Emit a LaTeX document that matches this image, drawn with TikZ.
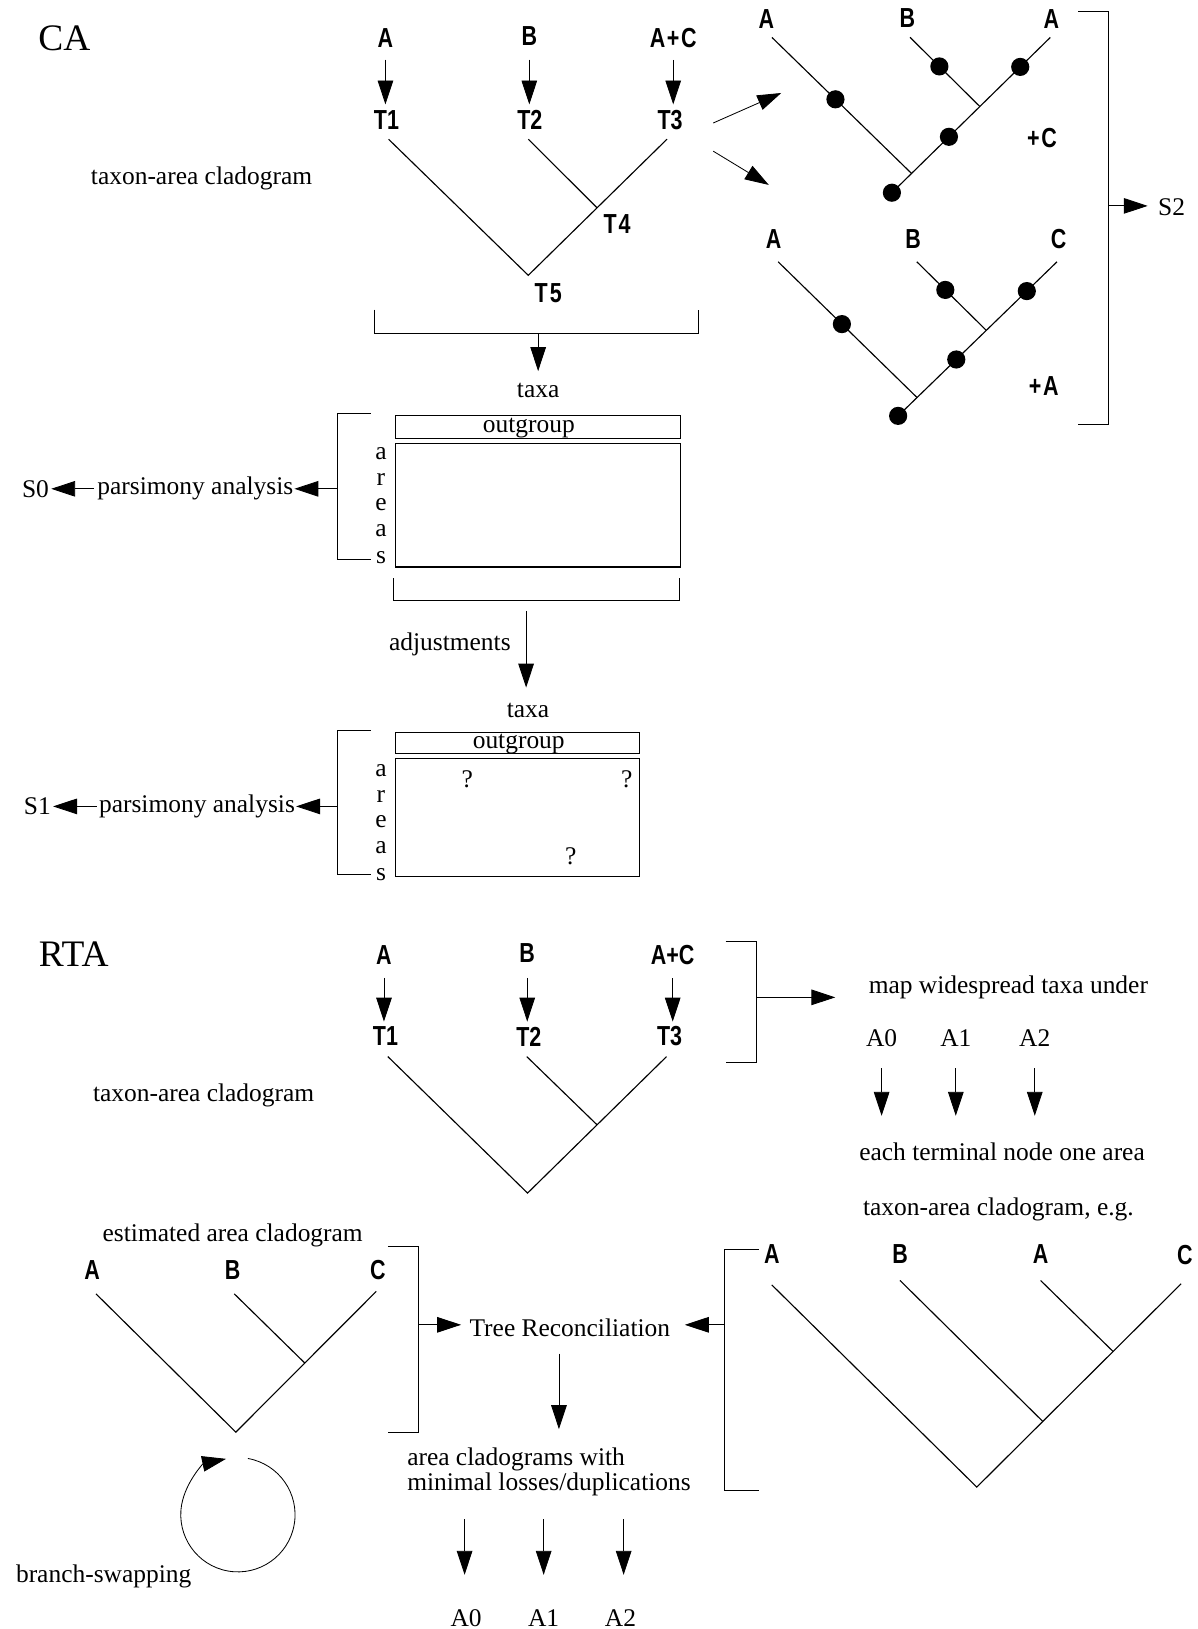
\documentclass[tikz,border=0pt]{standalone}
\usepackage{fontspec}
\setmainfont{Liberation Serif}
\newfontfamily\labfont[FakeStretch=0.78]{Liberation Sans}
\usetikzlibrary{arrows.meta,calc}
\tikzset{
  txt/.style={inner sep=0pt, font=\fontsize{24.5}{28}\selectfont},
  big/.style={inner sep=0pt, font=\fontsize{36}{40}\selectfont},
  lab/.style={inner sep=0pt, font=\labfont\fontsize{26.5}{30}\selectfont\bfseries},
  arr/.style={line width=0.8pt, -{Triangle[length=23pt,width=15pt]}},
  ln/.style={line width=1.1pt},
  br/.style={line width=1.1pt},
  dotn/.style={circle, fill, inner sep=0pt, minimum size=17.5pt},
  boxn/.style={draw, line width=1.1pt}
}
\begin{document}
\begin{tikzpicture}[x=1pt,y=-1pt]
\useasboundingbox (0,0) rectangle (1153,1568);

% ================= CA =================
\node[big] (CA) at (62,37) {CA};
\node[lab] (ca1) at (371,37) {A};
\node[lab] (ca2) at (509.5,35) {B};
\node[lab] (ca3) at (648,37) {A\kern1.5pt+\kern1.5pt C};
\node[lab] (ct1) at (372,115.5) {T1};
\node[lab] (ct2) at (510,115.5) {T2};
\node[lab] (ct3) at (645,115.5) {T3};
\draw[arr, shorten <=11pt, shorten >=15pt] (ca1) -- (ca1 |- ct1);
\draw[arr, shorten <=13pt, shorten >=15pt] (ca2) -- (ca2 |- ct2);
\draw[arr, shorten <=11pt, shorten >=15pt] (ca3) -- (ca3 |- ct3);
\coordinate (cv1) at (374,134);
\coordinate (cv2) at (508.5,134);
\coordinate (cv3) at (642,134);
\coordinate (cr) at (508.5,265);
\coordinate (cj) at ($(cv3)!0.504!(cr)$);
\draw[ln] (cv1) -- (cr) -- (cv3);
\draw[ln] (cv2) -- (cj);
\node[lab] (ct4) at (594,215.6) {T\kern2pt 4};
\node[lab] (ct5) at (527.7,282) {T\kern2pt 5};
\node[txt] (ctac) at (194,171.6) {taxon-area cladogram};

% arrows to the two trees
\coordinate (ta1s) at (686.5,118.4);
\coordinate (ta1e) at (752,89.5);
\coordinate (ta2s) at (686.5,145.5);
\coordinate (ta2e) at (740,178);
\draw[arr] (ta1s) -- (ta1e);
\draw[arr] (ta2s) -- (ta2e);

% bracket under tree
\draw[br] (360.6,298) -- (360.6,321) -- (672.5,321) -- (672.5,298);
\coordinate (cb1) at (518,321);
\node[txt] (taxa1) at (518,375.4) {taxa};
\draw[arr, shorten >=11pt] (cb1) -- (taxa1);

% matrix 1
\node[boxn, minimum width=274.4pt, minimum height=22.2pt, inner sep=0pt] (og1) at (518.1,411.1) {};
\node[txt] (og1t) at (509,412.5) {outgroup};
\node[boxn, minimum width=274.4pt, minimum height=118.4pt, inner sep=0pt] (m1) at (518.1,486.5) {};
\node[txt] (m1a) at (366.7,437) {a};
\node[txt] (m1r) at (366.7,461.3) {r};
\node[txt] (m1e) at (366.7,486) {e};
\node[txt] (m1a2) at (366.7,511) {a};
\node[txt] (m1s) at (366.7,536.5) {s};
\draw[br] (357,398.2) -- (324.8,398.2) -- (324.8,538.4) -- (357,538.4);
\coordinate (lb1) at (324.8,470.5);
\node[txt] (pars1) at (188,470.5) {parsimony analysis};
\node[txt] (s0) at (34.2,470.5) {S0};
\draw[arr, shorten >=1pt] (lb1) -- (pars1.east);
\draw[arr, shorten <=3pt, shorten >=2pt] (pars1.west) -- (s0.east);

\draw[br] (379,556.8) -- (379,578.2) -- (654,578.2) -- (654,556.8);
\coordinate (adjs) at (506.4,588);
\coordinate (adje) at (506.4,661.8);
\draw[arr] (adjs) -- (adje);
\node[txt] (adj) at (433,620.6) {adjustments};
\node[txt] (taxa2) at (508.2,684.3) {taxa};

% matrix 2
\node[boxn, minimum width=234.5pt, minimum height=20.3pt, inner sep=0pt] (og2) at (498.25,714.85) {};
\node[txt] (og2t) at (499.3,716) {outgroup};
\node[boxn, minimum width=234.5pt, minimum height=113.9pt, inner sep=0pt] (m2) at (498.25,786.65) {};
\node[txt] (m2a) at (366.7,741.5) {a};
\node[txt] (m2r) at (366.7,766.3) {r};
\node[txt] (m2e) at (366.7,791) {e};
\node[txt] (m2a2) at (366.7,816) {a};
\node[txt] (m2s) at (366.7,841.8) {s};
\node[txt] (q1) at (449.8,750.4) {?};
\node[txt] (q2) at (603.2,750.4) {?};
\node[txt] (q3) at (549.3,824) {?};
\draw[br] (357,703.5) -- (324.8,703.5) -- (324.8,841.8) -- (357,841.8);
\coordinate (lb2) at (324.8,776.2);
\node[txt] (pars2) at (189.6,776.2) {parsimony analysis};
\node[txt] (s1) at (36,776.2) {S1};
\draw[arr, shorten >=1pt] (lb2) -- (pars2.east);
\draw[arr, shorten <=2pt, shorten >=2pt] (pars2.west) -- (s1.east);

% ---- tree 1 (right top) ----
\node[lab] (u1a) at (737.6,18.6) {A};
\node[lab] (u1b) at (873.5,17.6) {B};
\node[lab] (u1c) at (1012,18.6) {A};
\coordinate (u1ta) at (743,36);
\coordinate (u1tb) at (876,36);
\coordinate (u1tc) at (1011,36);
\coordinate (u1r) at (858.5,185.5);
\coordinate (u1ja) at ($(u1tc)!0.876!(u1r)$);
\coordinate (u1jb) at ($(u1tc)!0.445!(u1r)$);
\draw[ln] (u1ta) -- (u1ja);
\draw[ln] (u1tb) -- (u1jb);
\draw[ln] (u1tc) -- (u1r);
\node[dotn] (u1d1) at ($(u1ta)!0.455!(u1ja)$) {};
\node[dotn] (u1d2) at ($(u1tb)!0.42!(u1jb)$) {};
\node[dotn] (u1d3) at ($(u1tc)!0.19!(u1r)$) {};
\node[dotn] (u1d4) at ($(u1tc)!0.64!(u1r)$) {};
\node[dotn] (u1d5) at (u1r) {};
\node[lab] (pc) at (1003,133) {+\kern1.5pt C};

% ---- tree 2 (right) ----
\node[lab] (u2a) at (744.7,229.6) {A};
\node[lab] (u2b) at (879,229.6) {B};
\node[lab] (u2c) at (1019,229.6) {C};
\coordinate (u2ta) at (749,252);
\coordinate (u2tb) at (882.5,252);
\coordinate (u2tc) at (1017.4,252);
\coordinate (u2r) at (864.5,400.3);
\coordinate (u2ja) at ($(u2tc)!0.881!(u2r)$);
\coordinate (u2jb) at ($(u2tc)!0.445!(u2r)$);
\draw[ln] (u2ta) -- (u2ja);
\draw[ln] (u2tb) -- (u2jb);
\draw[ln] (u2tc) -- (u2r);
\node[dotn] (u2d1) at ($(u2ta)!0.459!(u2ja)$) {};
\node[dotn] (u2d2) at ($(u2tb)!0.41!(u2jb)$) {};
\node[dotn] (u2d3) at ($(u2tc)!0.19!(u2r)$) {};
\node[dotn] (u2d4) at ($(u2tc)!0.634!(u2r)$) {};
\node[dotn] (u2d5) at (u2r) {};
\node[lab] (pa) at (1004.7,371.5) {+\kern1.5pt A};

\draw[br] (1038,11.2) -- (1066.8,11.2) -- (1066.8,408.6) -- (1038,408.6);
\coordinate (rb1) at (1066.8,198.2);
\node[txt] (s2) at (1127.8,199.8) {S2};
\draw[arr, shorten >=10pt] (rb1) -- (s2.west |- rb1);

% ================= RTA =================
\node[big] (RTA) at (71,918.5) {RTA};
\node[lab] (rl1) at (369.6,919) {A};
\node[lab] (rl2) at (507.5,916.9) {B};
\node[lab] (rl3) at (647.5,919) {A+C};
\node[lab] (rt1) at (371,997.7) {T1};
\node[lab] (rt2) at (509,997.7) {T2};
\node[lab] (rt3) at (644.5,997.7) {T3};
\draw[arr, shorten <=13pt, shorten >=14.4pt] (rl1) -- (rl1 |- rt1);
\draw[arr, shorten <=15pt, shorten >=14.4pt] (rl2) -- (rl2 |- rt2);
\draw[arr, shorten <=13pt, shorten >=14.4pt] (rl3) -- (rl3 |- rt3);
\coordinate (rv1) at (373.3,1017);
\coordinate (rv2) at (507,1017);
\coordinate (rv3) at (641.6,1017);
\coordinate (rr) at (507.8,1148.4);
\coordinate (rj) at ($(rv3)!0.5!(rr)$);
\draw[ln] (rv1) -- (rr) -- (rv3);
\draw[ln] (rv2) -- (rj);
\node[txt] (rtac) at (196,1054.8) {taxon-area cladogram};

\draw[br] (698.5,906) -- (728,906) -- (728,1022.7) -- (698.5,1022.7);
\coordinate (rb2) at (728,960);
\coordinate (rb2e) at (804,960);
\draw[arr] (rb2) -- (rb2e);
\node[txt] (map) at (970.6,950) {map widespread taxa under};
\node[txt] (ma0) at (848.6,999) {A0};
\node[txt] (ma1) at (920,999) {A1};
\node[txt] (ma2) at (996,999) {A2};
\node[txt] (each) at (964.5,1108.4) {each terminal node one area};
\draw[arr, shorten <=21pt, shorten >=34.4pt] (ma0) -- (ma0 |- each);
\draw[arr, shorten <=21pt, shorten >=34.4pt] (ma1) -- (ma1 |- each);
\draw[arr, shorten <=21pt, shorten >=34.4pt] (ma2) -- (ma2 |- each);
\node[txt] (eg) at (961,1163.8) {taxon-area cladogram, e.g.};

% estimated area cladogram
\node[txt] (est) at (224,1189.5) {estimated area cladogram};
\node[lab] (ea) at (88.7,1222) {A};
\node[lab] (eb) at (224,1222) {B};
\node[lab] (ec) at (363.7,1222) {C};
\coordinate (eva) at (92.4,1245.4);
\coordinate (evb) at (225.5,1245.4);
\coordinate (evc) at (362.2,1243);
\coordinate (er) at (227,1378.5);
\coordinate (ej) at ($(evc)!0.509!(er)$);
\draw[ln] (eva) -- (er) -- (evc);
\draw[ln] (evb) -- (ej);
\draw[br] (373.3,1199.8) -- (402.8,1199.8) -- (402.8,1378.5) -- (373.3,1378.5);
\coordinate (lb3) at (402.8,1275.2);
\node[txt] (tr) at (548.5,1278.4) {Tree Reconciliation};
\draw[arr, shorten >=8pt] (lb3) -- (tr.west |- lb3);

% right example tree
\draw[br] (730.3,1202.3) -- (697,1202.3) -- (697,1435) -- (730.3,1435);
\coordinate (lb4) at (697,1275.2);
\draw[arr, shorten >=14pt] (lb4) -- (tr.east |- lb4);
\node[lab] (xa) at (742.9,1207) {A};
\node[lab] (xb) at (866.3,1207) {B};
\node[lab] (xa2) at (1001.6,1207) {A};
\node[lab] (xc) at (1140.5,1208.4) {C};
\coordinate (xva) at (742.9,1236.8);
\coordinate (xvb) at (866.3,1232.5);
\coordinate (xva2) at (1001.6,1232.5);
\coordinate (xvc) at (1136.9,1235.7);
\coordinate (xr) at (940.2,1431.4);
\coordinate (xjb) at ($(xvc)!0.677!(xr)$);
\coordinate (xja) at ($(xvc)!0.333!(xr)$);
\draw[ln] (xva) -- (xr) -- (xvc);
\draw[ln] (xvb) -- (xjb);
\draw[ln] (xva2) -- (xja);

% result
\coordinate (trd1) at (538,1303);
\coordinate (trd2) at (538,1375.6);
\draw[arr] (trd1) -- (trd2);
\node[txt, anchor=west] (acw) at (391.8,1404.5) {area cladograms with};
\node[txt, anchor=west] (mld) at (391.8,1429) {minimal losses/duplications};
\node[txt] (ba0) at (448.7,1557.5) {A0};
\node[txt] (ba1) at (523.3,1557.5) {A1};
\node[txt] (ba2) at (597.3,1557.5) {A2};
\coordinate (bs0) at (447.2,1462.2);
\coordinate (bs1) at (523.3,1462.2);
\coordinate (bs2) at (600.3,1462.2);
\draw[arr, shorten >=41.7pt] (bs0) -- (bs0 |- ba0);
\draw[arr, shorten >=41.7pt] (bs1) -- (bs1 |- ba1);
\draw[arr, shorten >=41.7pt] (bs2) -- (bs2 |- ba2);

% branch swapping loop
\coordinate (cc) at (229,1458);
\draw[arr] ($(cc)+(80:55pt)$) arc[start angle=80, end angle=-258, radius=55pt];
\node[txt] (bsw) at (99.8,1517.4) {branch-swapping};
\end{tikzpicture}
\end{document}
